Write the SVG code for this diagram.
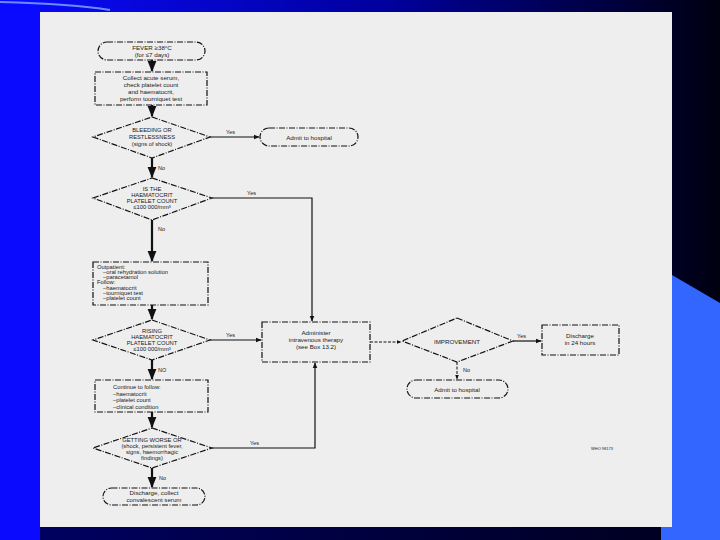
<svg xmlns="http://www.w3.org/2000/svg" width="720" height="540" viewBox="0 0 720 540">
<defs>
<linearGradient id="bg" x1="0" y1="0" x2="1" y2="0">
<stop offset="0" stop-color="#0a0aff"/>
<stop offset="0.55" stop-color="#00009a"/>
<stop offset="1" stop-color="#000010"/>
</linearGradient>
<linearGradient id="bot" x1="0" y1="0" x2="1" y2="0">
<stop offset="0" stop-color="#000060"/>
<stop offset="1" stop-color="#000020"/>
</linearGradient>
<marker id="ah" viewBox="0 0 10 10" refX="9" refY="5" markerWidth="5" markerHeight="5" orient="auto">
<path d="M0,1 L10,5 L0,9 z" fill="#111"/>
</marker>
<style>
.shape{fill:none;stroke:#111;stroke-width:1.2;stroke-dasharray:6 1.5 1 1.5}
.conn{fill:none;stroke:#111;stroke-width:1.2}
.thick{fill:none;stroke:#111;stroke-width:2.2}
.dash{fill:none;stroke:#111;stroke-width:1;stroke-dasharray:3 1.5}
text{font-family:"Liberation Sans",Arial,sans-serif;font-size:6.2px;fill:#1a1a1a;text-anchor:middle}
.dt{font-size:5.8px}
.lab{font-size:5.5px;text-anchor:start}
.left{text-anchor:start;font-size:5.8px}
</style>
</defs>
<rect x="0" y="0" width="720" height="540" fill="url(#bg)"/>
<rect x="0" y="0" width="40" height="540" fill="#0a0aff"/>
<rect x="40" y="526" width="640" height="14" fill="url(#bot)"/>
<polygon points="661,540 661,275 672,275 720,303 720,540" fill="#3366ff"/>
<path d="M0,2 C40,3 80,5 110,10" stroke="#6a8cff" stroke-width="2" fill="none"/>
<rect x="40" y="12" width="632" height="515" fill="#eeeeee"/>

<g id="connectors">
<path class="thick" d="M152,60 V71" marker-end="url(#ah)"/>
<path class="thick" d="M152,105 V116" marker-end="url(#ah)"/>
<path class="conn" d="M210,137 H259" marker-end="url(#ah)"/>
<text class="lab" x="226" y="134">Yes</text>
<path class="thick" d="M152,158 V177" marker-end="url(#ah)"/>
<text class="lab" x="158" y="170">No</text>
<path class="conn" d="M212,198 H312 V321" marker-end="url(#ah)"/>
<text class="lab" x="247" y="195">Yes</text>
<path class="thick" d="M152,220 V261" marker-end="url(#ah)"/>
<text class="lab" x="158" y="231">No</text>
<path class="thick" d="M152,305 V319" marker-end="url(#ah)"/>
<path class="conn" d="M210,340 H261" marker-end="url(#ah)"/>
<text class="lab" x="226" y="337">Yes</text>
<path class="thick" d="M152,360 V379" marker-end="url(#ah)"/>
<text class="lab" x="158" y="372">NO</text>
<path class="thick" d="M152,412 V427" marker-end="url(#ah)"/>
<path class="conn" d="M212,448 H315 V363" marker-end="url(#ah)"/>
<text class="lab" x="250" y="445">Yes</text>
<path class="thick" d="M152,468 V487" marker-end="url(#ah)"/>
<text class="lab" x="159" y="480">No</text>
<path class="dash" d="M370,342 H401" marker-end="url(#ah)"/>
<path class="conn" d="M513,341 H541" marker-end="url(#ah)"/>
<text class="lab" x="517" y="338">Yes</text>
<path class="dash" d="M457,362 V379" marker-end="url(#ah)"/>
<text class="lab" x="463" y="372">No</text>
</g>

<g id="n-fever">
<rect class="shape" x="98" y="42" width="107" height="18" rx="9"/>
<text x="152" y="49.5">FEVER ≥38°C</text>
<text x="152" y="57">(for ≤7 days)</text>
</g>
<g id="n-collect">
<rect class="shape" x="95" y="72" width="112" height="33"/>
<text x="151" y="80">Collect acute serum,</text>
<text x="151" y="87">check platelet count</text>
<text x="151" y="94">and haematocrit,</text>
<text x="151" y="101">perform tourniquet test</text>
</g>
<g id="n-bleeding">
<polygon class="shape" points="152,117 210,137 152,158 93,137"/>
<text class="dt" x="152" y="132">BLEEDING OR</text>
<text class="dt" x="152" y="139">RESTLESSNESS</text>
<text class="dt" x="152" y="146">(signs of shock)</text>
</g>
<g id="n-admit1">
<rect class="shape" x="260" y="128" width="98" height="18" rx="9"/>
<text x="309" y="139.5">Admit to hospital</text>
</g>
<g id="n-haematocrit">
<polygon class="shape" points="152,178 212,198 152,220 93,198"/>
<text class="dt" x="152" y="191">IS THE</text>
<text class="dt" x="152" y="197">HAEMATOCRIT</text>
<text class="dt" x="152" y="203">PLATELET COUNT</text>
<text class="dt" x="152" y="209">≤100 000/mm³</text>
</g>
<g id="n-outpatient">
<rect class="shape" x="93" y="262" width="115" height="43"/>
<text class="left" x="97" y="268.5">Outpatient:</text>
<text class="left" x="103" y="273.8">–oral rehydration solution</text>
<text class="left" x="103" y="279.1">–paracetamol</text>
<text class="left" x="97" y="284.4">Follow:</text>
<text class="left" x="103" y="289.7">–haematocrit</text>
<text class="left" x="103" y="295">–tourniquet test</text>
<text class="left" x="103" y="300.3">–platelet count</text>
</g>
<g id="n-rising">
<polygon class="shape" points="152,320 210,340 152,360 93,340"/>
<text class="dt" x="152" y="333">RISING</text>
<text class="dt" x="152" y="339">HAEMATOCRIT</text>
<text class="dt" x="152" y="345">PLATELET COUNT</text>
<text class="dt" x="152" y="351">≤100 000/mm³</text>
</g>
<g id="n-continue">
<rect class="shape" x="95" y="380" width="113" height="32"/>
<text class="left" x="113" y="389">Continue to follow:</text>
<text class="left" x="113" y="395.5">–haematocrit</text>
<text class="left" x="113" y="402">–platelet count</text>
<text class="left" x="113" y="408.5">–clinical condition</text>
</g>
<g id="n-worse">
<polygon class="shape" points="152,428 212,448 152,468 93,448"/>
<text class="dt" x="152" y="442">GETTING WORSE OR</text>
<text class="dt" x="152" y="448">(shock, persistent fever,</text>
<text class="dt" x="152" y="454">signs, haemorrhagic</text>
<text class="dt" x="152" y="460">findings)</text>
</g>
<g id="n-discharge-end">
<rect class="shape" x="103" y="488" width="102" height="17" rx="8.5"/>
<text x="154" y="495">Discharge, collect</text>
<text x="154" y="502">convalescent serum</text>
</g>
<g id="n-iv">
<rect class="shape" x="262" y="322" width="108" height="40"/>
<text x="316" y="335">Administer</text>
<text x="316" y="342">intravenous therapy</text>
<text x="316" y="349">(see Box 13.2)</text>
</g>
<g id="n-improvement">
<polygon class="shape" points="457,318 513,341 457,362 402,341"/>
<text x="457" y="343.5">IMPROVEMENT</text>
</g>
<g id="n-discharge">
<rect class="shape" x="542" y="325" width="77" height="30"/>
<text x="580" y="338">Discharge</text>
<text x="580" y="345">in 24 hours</text>
</g>
<g id="n-admit2">
<rect class="shape" x="407" y="380" width="101" height="18" rx="9"/>
<text x="457" y="391.5">Admit to hospital</text>
</g>
<text x="602" y="450" style="font-size:4px">WHO 98173</text>
</svg>
